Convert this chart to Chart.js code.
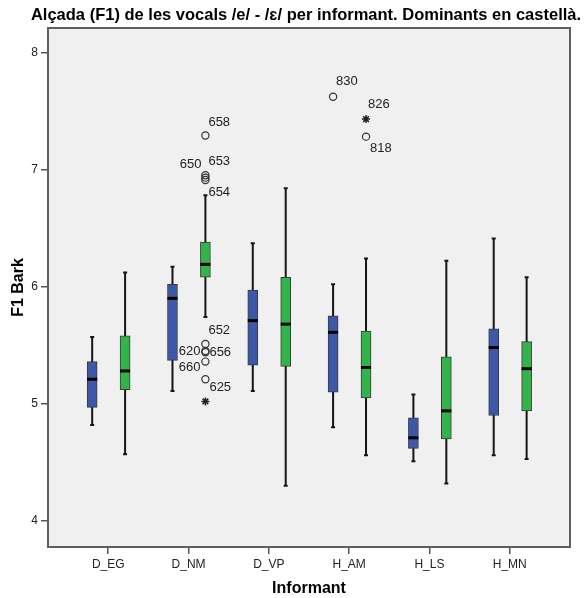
<!DOCTYPE html>
<html>
<head>
<meta charset="utf-8">
<script src="https://cdn.jsdelivr.net/npm/chart.js@4/dist/chart.umd.min.js"></script>
<style>
  body { margin: 0; background: #fff; }
  canvas { display: block; }
</style>
</head>
<body>
<canvas id="boxChart" width="584" height="598"></canvas>
<script>
var informants = ['D_EG', 'D_NM', 'D_VP', 'H_AM', 'H_LS', 'H_MN'];
var yTicks = [4, 5, 6, 7, 8];

// blue boxes
var blueMin = [4.82, 5.11, 5.11, 4.80, 4.51, 4.56];
var blueQ1  = [4.97, 5.37, 5.33, 5.10, 4.62, 4.90];
var blueMed = [5.21, 5.90, 5.71, 5.61, 4.71, 5.48];
var blueQ3  = [5.36, 6.02, 5.97, 5.75, 4.88, 5.64];
var blueMax = [5.57, 6.17, 6.37, 6.02, 5.08, 6.41];

// green boxes
var greenMin = [4.57, 5.74, 4.30, 4.56, 4.32, 4.53];
var greenQ1  = [5.12, 6.08, 5.32, 5.05, 4.70, 4.94];
var greenMed = [5.28, 6.19, 5.68, 5.31, 4.94, 5.30];
var greenQ3  = [5.58, 6.38, 6.08, 5.62, 5.40, 5.53];
var greenMax = [6.12, 6.78, 6.84, 6.24, 6.22, 6.08];

// outliers (circle) and extremes (star)
var outInformant = ['D_NM', 'D_NM', 'D_NM', 'D_NM', 'D_NM', 'D_NM', 'D_NM', 'D_NM', 'D_NM', 'H_AM', 'H_AM'];
var outSeries    = ['green', 'green', 'green', 'green', 'green', 'green', 'green', 'green', 'green', 'blue', 'green'];
var outValue     = [7.29, 6.95, 6.93, 6.91, 5.51, 5.45, 5.44, 5.36, 5.21, 7.62, 7.28];
var outCase      = ['658', '650', '653', '654', '652', '620', '656', '660', '625', '830', '818'];

var extInformant = ['D_NM', 'H_AM'];
var extSeries    = ['green', 'green'];
var extValue     = [5.02, 7.43];
var extCase      = ['', '826'];

// where each case number sits next to its marker
var labelPlace = {
  '658': [3, -13, 'left'], '650': [-4, -11, 'right'], '653': [3, -16, 'left'],
  '654': [3, 12, 'left'], '652': [3, -14, 'left'], '620': [-5, 0, 'right'],
  '656': [4, 0, 'left'], '660': [-5, 6, 'right'], '625': [4, 8, 'left'],
  '830': [3, -15, 'left'], '826': [2, -15, 'left'], '818': [4, 12, 'left']
};

var seriesShift = { blue: -0.2, green: 0.21 };
var blueColor = '#3d58a9';
var greenColor = '#33b44a';

function boxData(q1, q3, series) {
  return informants.map(function (name, i) {
    return { x: i + seriesShift[series], y: [q1[i], q3[i]] };
  });
}

function pointData(cats, series, values) {
  return values.map(function (v, i) {
    return { x: informants.indexOf(cats[i]) + seriesShift[series[i]], y: v };
  });
}

var whiskers = [
  { min: blueMin, max: blueMax, med: blueMed },
  { min: greenMin, max: greenMax, med: greenMed }
];

var framePlugin = {
  id: 'frame',
  beforeDraw: function (chart) {
    var a = chart.chartArea, ctx = chart.ctx;
    ctx.save();
    ctx.fillStyle = '#f0f0f0';
    ctx.fillRect(a.left, a.top, a.right - a.left, a.bottom - a.top);
    ctx.restore();
  },
  afterDraw: function (chart) {
    var a = chart.chartArea, ctx = chart.ctx;
    ctx.save();
    ctx.strokeStyle = '#5e5e5e';
    ctx.lineWidth = 2;
    ctx.strokeRect(a.left, a.top, a.right - a.left, a.bottom - a.top);
    ctx.fillStyle = '#000';
    ctx.font = 'bold 16.5px "Liberation Sans", Arial, sans-serif';
    ctx.textAlign = 'center';
    ctx.textBaseline = 'middle';
    ctx.fillText('Alçada (F1) de les vocals /e/ - /ɛ/ per informant. Dominants en castellà.', 306, 15);
    ctx.restore();
  }
};

var boxPlugin = {
  id: 'boxParts',
  beforeDatasetsDraw: function (chart) {
    var ctx = chart.ctx, y = chart.scales.y;
    ctx.save();
    ctx.strokeStyle = '#151515';
    ctx.lineWidth = 2;
    whiskers.forEach(function (w, d) {
      chart.getDatasetMeta(d).data.forEach(function (bar, i) {
        var top = y.getPixelForValue(w.max[i]);
        var bot = y.getPixelForValue(w.min[i]);
        ctx.beginPath();
        ctx.moveTo(bar.x, top);
        ctx.lineTo(bar.x, bot);
        ctx.moveTo(bar.x - 2, top);
        ctx.lineTo(bar.x + 2, top);
        ctx.moveTo(bar.x - 2, bot);
        ctx.lineTo(bar.x + 2, bot);
        ctx.stroke();
      });
    });
    ctx.restore();
  },
  afterDatasetsDraw: function (chart) {
    var ctx = chart.ctx, y = chart.scales.y;
    ctx.save();
    ctx.strokeStyle = '#000';
    ctx.lineWidth = 3;
    whiskers.forEach(function (w, d) {
      chart.getDatasetMeta(d).data.forEach(function (bar, i) {
        var m = y.getPixelForValue(w.med[i]);
        ctx.beginPath();
        ctx.moveTo(bar.x - bar.width / 2, m);
        ctx.lineTo(bar.x + bar.width / 2, m);
        ctx.stroke();
      });
    });
    // case numbers
    ctx.fillStyle = '#222';
    ctx.font = '13px "Liberation Sans", Arial, sans-serif';
    ctx.textBaseline = 'middle';
    [[2, outCase], [3, extCase]].forEach(function (pair) {
      chart.getDatasetMeta(pair[0]).data.forEach(function (pt, i) {
        var id = pair[1][i];
        if (!id) return;
        var p = labelPlace[id];
        ctx.textAlign = p[2];
        ctx.fillText(id, pt.x + p[0], pt.y + p[1]);
      });
    });
    ctx.restore();
  }
};

document.addEventListener("DOMContentLoaded", () => {
  var tickFont = { family: '"Liberation Sans", Arial, sans-serif', size: 12 };
  var titleFont = { family: '"Liberation Sans", Arial, sans-serif', size: 16, weight: 'bold' };

  new Chart(document.getElementById('boxChart'), {
    type: 'bar',
    data: {
      datasets: [{
        data: boxData(blueQ1, blueQ3, 'blue'),
        backgroundColor: blueColor,
        borderColor: '#3a3a3a',
        borderWidth: 1,
        borderSkipped: false,
        barThickness: 10,
        grouped: false
      }, {
        data: boxData(greenQ1, greenQ3, 'green'),
        backgroundColor: greenColor,
        borderColor: '#3a3a3a',
        borderWidth: 1,
        borderSkipped: false,
        barThickness: 10,
        grouped: false
      }, {
        type: 'scatter',
        data: pointData(outInformant, outSeries, outValue),
        pointStyle: 'circle',
        pointRadius: 3.6,
        backgroundColor: 'rgba(0,0,0,0)',
        borderColor: '#333',
        borderWidth: 1.2
      }, {
        type: 'scatter',
        data: pointData(extInformant, extSeries, extValue),
        pointStyle: 'star',
        pointRadius: 4,
        backgroundColor: '#222',
        borderColor: '#222',
        borderWidth: 1.5
      }]
    },
    options: {
      responsive: false,
      animation: false,
      layout: { padding: { top: 28, right: 14, left: 0, bottom: 0 } },
      plugins: {
        legend: { display: false },
        tooltip: { enabled: false },
        title: { display: false }
      },
      scales: {
        x: {
          type: 'linear',
          min: -0.75,
          max: 5.75,
          offset: false,
          afterBuildTicks: function (s) {
            s.ticks = informants.map(function (n, i) { return { value: i }; });
          },
          afterFit: function (s) { s.height = 51; },
          grid: { drawOnChartArea: false, offset: false, tickLength: 7, color: '#555', lineWidth: 1.5 },
          border: { display: false },
          ticks: {
            font: tickFont, color: '#222', padding: 3, autoSkip: false, maxRotation: 0,
            callback: function (v) { return informants[v]; }
          },
          title: { display: true, text: 'Informant', font: titleFont, color: '#000', padding: 0 }
        },
        y: {
          min: 3.778,
          max: 8.207,
          afterBuildTicks: function (s) {
            s.ticks = yTicks.map(function (v) { return { value: v }; });
          },
          afterFit: function (s) { s.width = 48; },
          grid: { drawOnChartArea: false, tickLength: 7, color: '#555', lineWidth: 1.5 },
          border: { display: false },
          ticks: { font: tickFont, color: '#222', padding: 3 },
          title: { display: true, text: 'F1 Bark', font: titleFont, color: '#000', padding: { top: 9 } }
        }
      }
    },
    plugins: [framePlugin, boxPlugin]
  });
});
</script>
</body>
</html>
